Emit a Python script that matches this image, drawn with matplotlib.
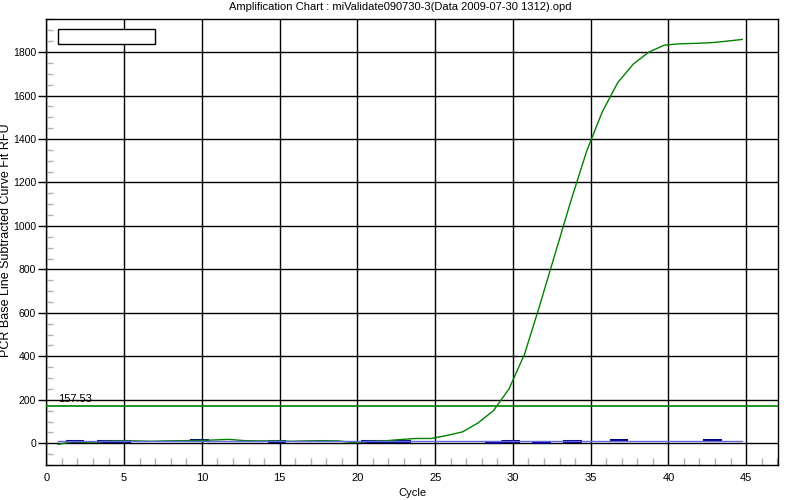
import numpy as np
import matplotlib
matplotlib.use("Agg")
import matplotlib.pyplot as plt
from matplotlib.patches import Rectangle
from matplotlib.ticker import MultipleLocator

plt.rcParams['font.family'] = ['Liberation Sans', 'DejaVu Sans']

title = "Amplification Chart : miValidate090730-3(Data 2009-07-30 1312).opd"
xlabel = "Cycle"
ylabel = "PCR Base Line Subtracted Curve Fit RFU"

cycle_numbers = np.arange(1, 46)
# the instrument plots each cycle slightly left of its integer position
cycles = cycle_numbers - 0.25

green_rfu = [-5, 8, 3, 9, 11, 11, 9, 11, 12, 13,
             15, 18, 12, 11, 11, 9, 11, 12, 11, 3,
             9, 11, 17, 22, 22, 36, 52, 93, 150, 250,
             410, 640, 880, 1120, 1345, 1525, 1660, 1745, 1800, 1832,
             1838, 1840, 1843, 1850, 1858]

nan = np.nan
navy_rfu = [12, nan, 11, 12, nan, nan, nan, nan, 17, nan,
            nan, nan, nan, 12, nan, nan, nan, nan, nan, 12,
            11, 12, nan, nan, nan, nan, nan, 8, 10, nan,
            8, nan, 10, nan, nan, 14, nan, nan, nan, nan,
            nan, 16, nan, nan, nan]
navy_cycles = cycle_numbers + 0.3

baseline_level = 12
threshold = 170
threshold_label = "157.53"

fig = plt.figure(figsize=(8, 5), dpi=100)
ax = fig.add_axes([0.058, 0.07, 0.9145, 0.892])

ax.set_xlim(0, 47.05)
ax.set_ylim(-100, 1952)

ax.xaxis.set_major_locator(MultipleLocator(5))
ax.xaxis.set_minor_locator(MultipleLocator(1))
ax.yaxis.set_major_locator(MultipleLocator(200))
ax.yaxis.set_minor_locator(MultipleLocator(50))
ax.set_yticks(np.arange(0, 1801, 200))

ax.grid(True, which='major', color='black', linewidth=1.0)
ax.set_axisbelow(True)

ax.tick_params(axis='x', which='major', length=0, pad=6, labelsize=8)
ax.tick_params(axis='x', which='minor', direction='in', length=5, color='#b0b0b0', width=1)
ax.tick_params(axis='y', which='major', direction='out', length=6, width=1, labelsize=7.5, pad=1.5)
ax.tick_params(axis='y', which='minor', direction='in', length=5, color='#b0b0b0', width=1)

for s in ax.spines.values():
    s.set_linewidth(1.0)
    s.set_color('black')

# threshold
ax.axhline(threshold, color='#008000', linewidth=1.2, zorder=3)
ax.text(cycles[0], threshold + 12, threshold_label, fontsize=8, ha='left', va='bottom', zorder=4)

# navy series (segments)
ax.step(navy_cycles, navy_rfu, where='post', color='#000080', linewidth=2.2, zorder=4)
# green curve
ax.plot(cycles, green_rfu, color='#008000', linewidth=1.0, zorder=5)
# baseline line
ax.plot([cycles[0], cycles[-1]], [baseline_level, baseline_level], color='#6666dd', linewidth=1.0, zorder=6)

# empty legend box
ax.add_patch(Rectangle((0.0155, 0.945), 0.1325, 0.032, transform=ax.transAxes,
                       facecolor='white', edgecolor='black', linewidth=1.0, zorder=7))

fig.text(0.5, 0.985, title, ha='center', va='center', fontsize=8)
ax.set_xlabel(xlabel, fontsize=8, labelpad=3)
fig.text(0.0075, 0.519, ylabel, rotation=90, ha='center', va='center', fontsize=9)

fig.savefig("out.png", dpi=100)
